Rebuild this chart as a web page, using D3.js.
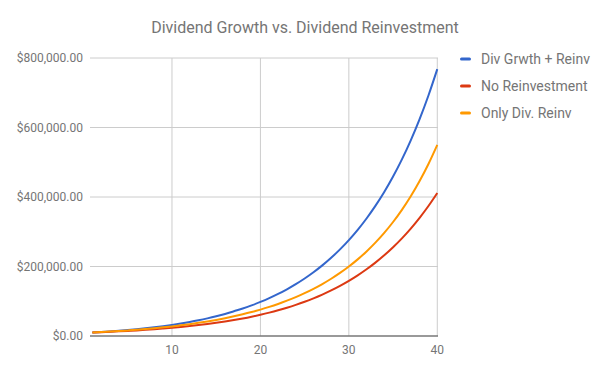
<!DOCTYPE html>
<html>
<head>
<meta charset="utf-8">
<script src="https://cdn.jsdelivr.net/npm/d3@7"></script>
<style>
html, body { margin: 0; padding: 0; background: #fff; }
svg { display: block; font-family: Roboto, "Noto Sans", Arial, sans-serif; }
</style>
</head>
<body>
<svg id="chart" width="609" height="376"></svg>
<script>
// ---- data ----
const title = "Dividend Growth vs. Dividend Reinvestment";
const years = d3.range(1, 41);
const seriesNames = ["Div Grwth + Reinv", "No Reinvestment", "Only Div. Reinv"];
const seriesColors = ["#3366cc", "#dc3912", "#ff9900"];
const divGrowthReinv = [
  10000, 11469, 13122, 14981, 17066, 19400, 22010, 24922, 28168, 31779,
  35793, 40249, 45190, 50664, 56722, 63422, 71253, 79006, 88036, 98001,
  108995, 121122, 134498, 149250, 165522, 183475, 203286, 225154, 249307, 275996,
  305505, 338158, 374312, 414379, 458826, 508178, 563038, 624088, 692111, 768004
];
const noReinvestment = [
  10000, 11000, 12100, 13310, 14641, 16105, 17716, 19487, 21436, 23579,
  25937, 28531, 31384, 34523, 37975, 41772, 45950, 50545, 55599, 61159,
  67275, 74003, 81403, 89543, 98497, 108347, 119182, 131100, 144210, 158631,
  174494, 191943, 211138, 232252, 255477, 281024, 309127, 340039, 374043, 411448
];
const onlyDivReinv = [
  10000, 11278, 12693, 14259, 15989, 17898, 20002, 22319, 24867, 27668,
  30745, 34122, 37828, 41894, 46352, 51240, 56600, 62478, 68924, 75996,
  83759, 92283, 101648, 111945, 123276, 135754, 149507, 164688, 181453, 199991,
  220533, 243319, 268645, 296756, 328055, 363014, 402087, 445894, 494877, 549945
];
const xTicks = [10, 20, 30, 40];
const yTicks = [0, 200000, 400000, 600000, 800000];

const seriesValues = [divGrowthReinv, noReinvestment, onlyDivReinv];

// ---- layout ----
const svg = d3.select("#chart");
const plot = { left: 90, right: 438, top: 58, bottom: 336 };

const x = d3.scaleLinear().domain([0.73, 40.08]).range([plot.left, plot.right]);
const y = d3.scaleLinear().domain([0, 800000]).range([plot.bottom, plot.top]);

const textGray = "#757575";

// title
svg.append("text")
  .attr("x", 305).attr("y", 33)
  .attr("text-anchor", "middle")
  .attr("font-size", 16)
  .attr("fill", textGray)
  .text(title);

// horizontal gridlines
svg.append("g")
  .selectAll("line")
  .data(yTicks.filter(d => d !== 0))
  .join("line")
  .attr("x1", plot.left).attr("x2", plot.right)
  .attr("y1", d => y(d)).attr("y2", d => y(d))
  .attr("stroke", "#cccccc").attr("stroke-width", 1);

// vertical gridlines
svg.append("g")
  .selectAll("line")
  .data(xTicks)
  .join("line")
  .attr("x1", d => x(d)).attr("x2", d => x(d))
  .attr("y1", plot.top).attr("y2", plot.bottom)
  .attr("stroke", "#cccccc").attr("stroke-width", 1);

// y axis labels
const fmt = v => "$" + d3.format(",.2f")(v);
svg.append("g")
  .selectAll("text")
  .data(yTicks)
  .join("text")
  .attr("x", 83)
  .attr("y", d => y(d))
  .attr("dy", "0.35em")
  .attr("text-anchor", "end")
  .attr("font-size", 12)
  .attr("fill", textGray)
  .text(fmt);

// x axis labels
svg.append("g")
  .selectAll("text")
  .data(xTicks)
  .join("text")
  .attr("x", d => x(d))
  .attr("y", 354)
  .attr("text-anchor", "middle")
  .attr("font-size", 12)
  .attr("fill", textGray)
  .text(d => d);

// lines
const line = d3.line()
  .x((d, i) => x(years[i]))
  .y(d => y(d))
  .curve(d3.curveMonotoneX);

svg.append("g")
  .selectAll("path")
  .data(seriesValues)
  .join("path")
  .attr("d", d => line(d))
  .attr("fill", "none")
  .attr("stroke", (d, i) => seriesColors[i])
  .attr("stroke-width", 2);

// baseline
svg.append("line")
  .attr("x1", plot.left).attr("x2", plot.right)
  .attr("y1", y(0)).attr("y2", y(0))
  .attr("stroke", "#777777").attr("stroke-width", 1.6);

// legend
const legend = svg.append("g")
  .selectAll("g")
  .data(seriesNames)
  .join("g")
  .attr("transform", (d, i) => `translate(460, ${59 + i * 27})`);
legend.append("line")
  .attr("x1", 1.5).attr("x2", 9.5)
  .attr("y1", 0).attr("y2", 0)
  .attr("stroke", (d, i) => seriesColors[i])
  .attr("stroke-width", 3)
  .attr("stroke-linecap", "round");
legend.append("text")
  .attr("x", 21).attr("y", 0)
  .attr("dy", "0.35em")
  .attr("font-size", 14)
  .attr("fill", textGray)
  .text(d => d);
</script>
</body>
</html>
